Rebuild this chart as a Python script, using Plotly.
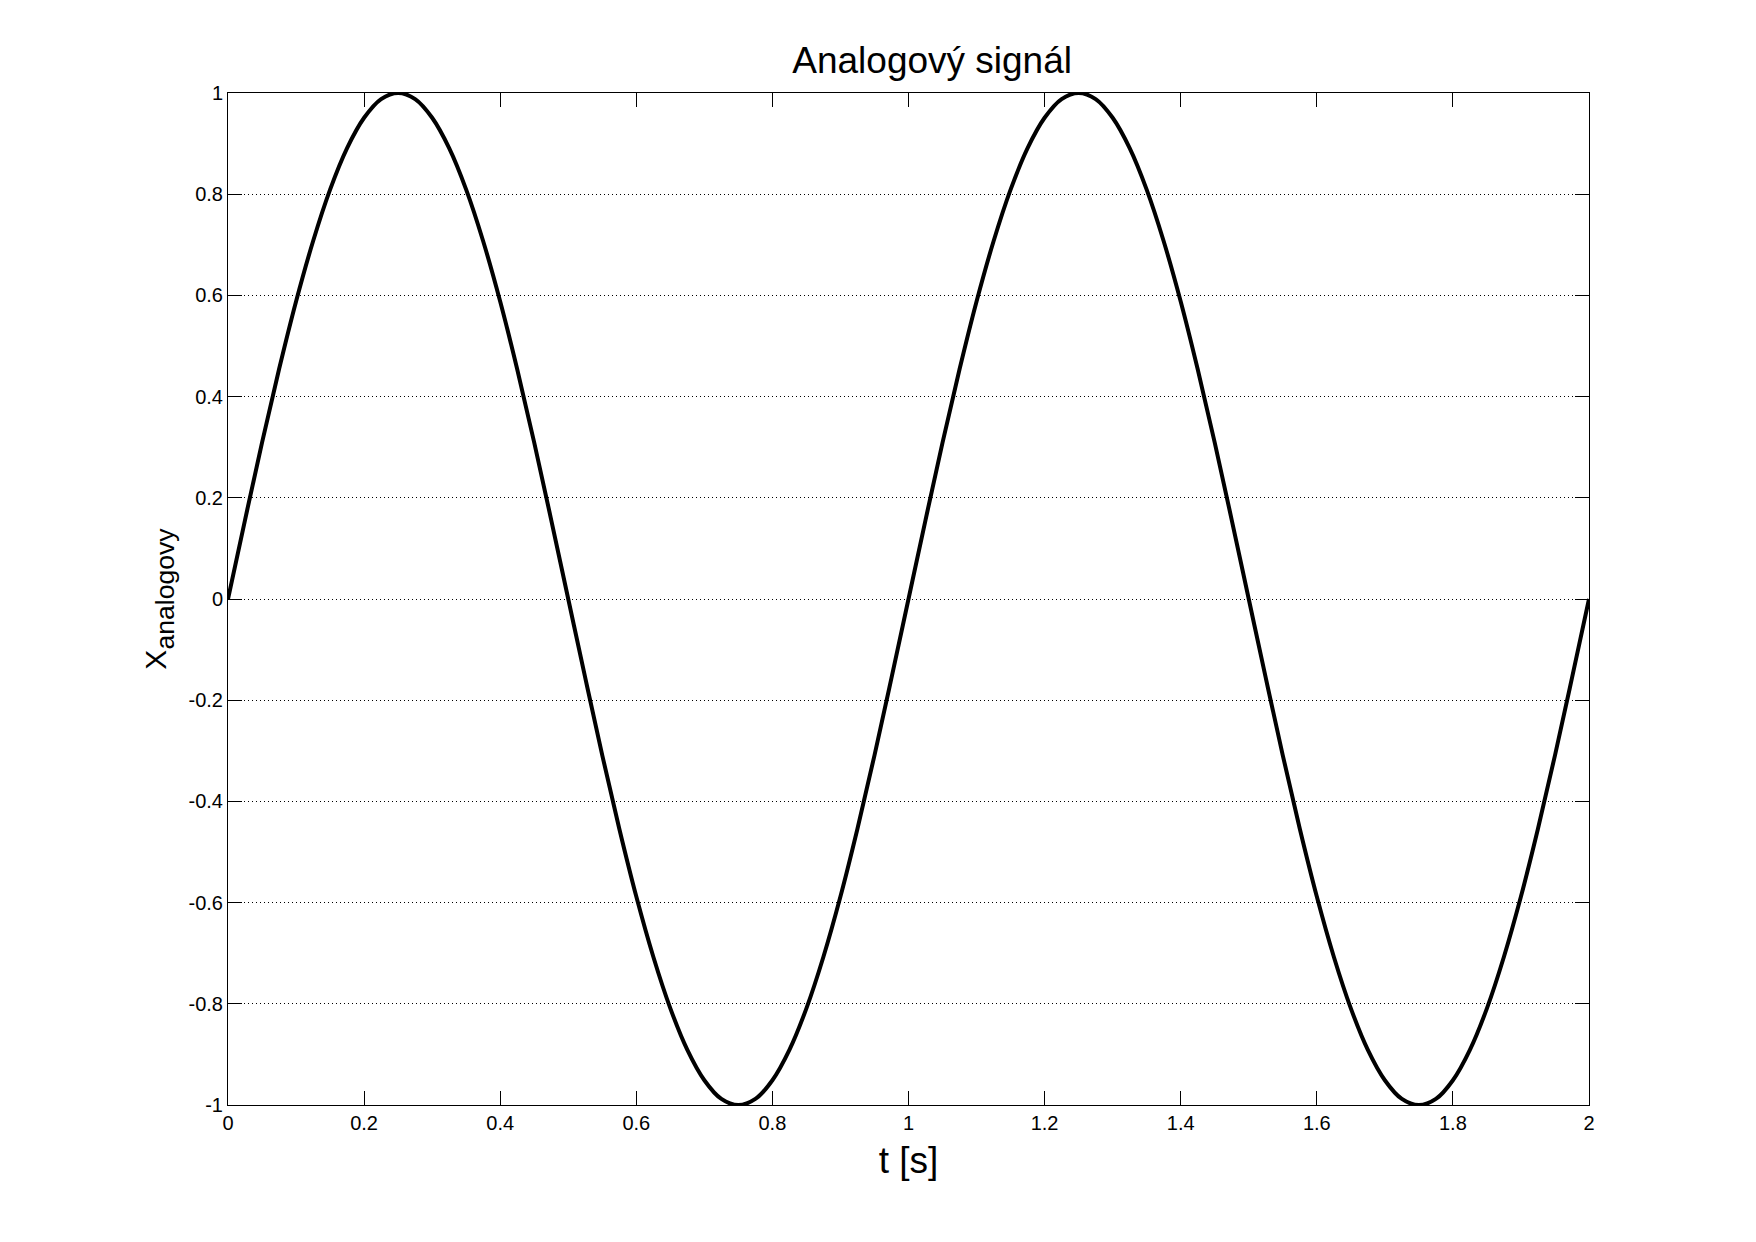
import plotly.graph_objects as go

# time samples [s] and signal values (0.025 s step)
t = [0.000, 0.025, 0.050, 0.075, 0.100, 0.125, 0.150, 0.175, 0.200, 0.225,
     0.250, 0.275, 0.300, 0.325, 0.350, 0.375, 0.400, 0.425, 0.450, 0.475,
     0.500, 0.525, 0.550, 0.575, 0.600, 0.625, 0.650, 0.675, 0.700, 0.725,
     0.750, 0.775, 0.800, 0.825, 0.850, 0.875, 0.900, 0.925, 0.950, 0.975,
     1.000, 1.025, 1.050, 1.075, 1.100, 1.125, 1.150, 1.175, 1.200, 1.225,
     1.250, 1.275, 1.300, 1.325, 1.350, 1.375, 1.400, 1.425, 1.450, 1.475,
     1.500, 1.525, 1.550, 1.575, 1.600, 1.625, 1.650, 1.675, 1.700, 1.725,
     1.750, 1.775, 1.800, 1.825, 1.850, 1.875, 1.900, 1.925, 1.950, 1.975,
     2.000]
x_analog = [0.000, 0.156, 0.309, 0.454, 0.588, 0.707, 0.809, 0.891, 0.951, 0.988,
            1.000, 0.988, 0.951, 0.891, 0.809, 0.707, 0.588, 0.454, 0.309, 0.156,
            0.000, -0.156, -0.309, -0.454, -0.588, -0.707, -0.809, -0.891, -0.951, -0.988,
            -1.000, -0.988, -0.951, -0.891, -0.809, -0.707, -0.588, -0.454, -0.309, -0.156,
            0.000, 0.156, 0.309, 0.454, 0.588, 0.707, 0.809, 0.891, 0.951, 0.988,
            1.000, 0.988, 0.951, 0.891, 0.809, 0.707, 0.588, 0.454, 0.309, 0.156,
            0.000, -0.156, -0.309, -0.454, -0.588, -0.707, -0.809, -0.891, -0.951, -0.988,
            -1.000, -0.988, -0.951, -0.891, -0.809, -0.707, -0.588, -0.454, -0.309, -0.156,
            0.000]

x_ticks = [0, 0.2, 0.4, 0.6, 0.8, 1.0, 1.2, 1.4, 1.6, 1.8, 2.0]
x_tick_labels = ["0", "0.2", "0.4", "0.6", "0.8", "1", "1.2", "1.4", "1.6", "1.8", "2"]
y_ticks = [-1, -0.8, -0.6, -0.4, -0.2, 0, 0.2, 0.4, 0.6, 0.8, 1]
y_tick_labels = ["-1", "-0.8", "-0.6", "-0.4", "-0.2", "0", "0.2", "0.4", "0.6", "0.8", "1"]

FONT = "Liberation Sans, Arial, Helvetica, sans-serif"

fig = go.Figure()
fig.add_trace(go.Scatter(
    x=t, y=x_analog, mode="lines",
    line=dict(color="black", width=4, shape="spline", smoothing=1.0),
    hoverinfo="skip", showlegend=False,
))

fig.update_layout(
    width=1756, height=1242,
    margin=dict(l=228, r=167, t=93, b=137, pad=0),
    paper_bgcolor="white", plot_bgcolor="white",
    font=dict(family=FONT, color="black", size=20),
    title=dict(
        text="Analogový signál",
        font=dict(family=FONT, size=37, color="black"),
        x=(228 + 1589) / 2 / 1756, xanchor="center", xref="paper",
        y=1 - 60 / 1242, yanchor="middle", yref="container",
    ),
    xaxis=dict(
        range=[0, 2], tickvals=x_ticks, ticktext=x_tick_labels,
        ticks="inside", ticklen=14, tickwidth=1, tickcolor="black",
        showline=True, linecolor="black", linewidth=1, mirror="ticks",
        showgrid=False, zeroline=False,
        tickfont=dict(family=FONT, size=20, color="black"),
        title=dict(text="t [s]", font=dict(family=FONT, size=37, color="black"), standoff=14),
    ),
    yaxis=dict(
        range=[-1, 1], tickvals=y_ticks, ticktext=y_tick_labels,
        ticks="inside", ticklen=14, tickwidth=1, tickcolor="black",
        showline=True, linecolor="black", linewidth=1, mirror="ticks",
        showgrid=True, gridcolor="black", gridwidth=1, griddash="1px,3px",
        zeroline=False,
        tickfont=dict(family=FONT, size=20, color="black"),
        title=dict(text="<span style='font-size:30px'>X</span><sub>analogovy</sub>",
                   font=dict(family=FONT, size=38, color="black"), standoff=10),
    ),
)

fig.write_html("out.html")
